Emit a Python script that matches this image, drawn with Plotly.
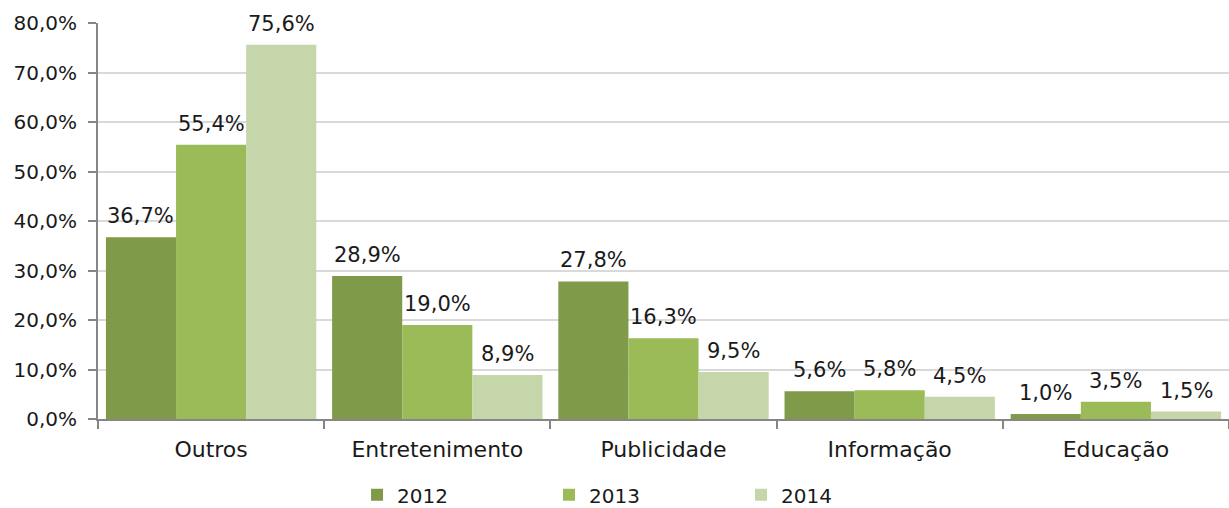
import plotly.graph_objects as go

categories = ["Outros", "Entretenimento", "Publicidade", "Informação", "Educação"]
years = ["2012", "2013", "2014"]
v2012 = [36.7, 28.9, 27.8, 5.6, 1.0]
v2013 = [55.4, 19.0, 16.3, 5.8, 3.5]
v2014 = [75.6, 8.9, 9.5, 4.5, 1.5]
colors = ["#7F9A48", "#9BBB59", "#C4D6AA"]
y_ticks = [0, 10, 20, 30, 40, 50, 60, 70, 80]
y_ticktext = ["0,0%", "10,0%", "20,0%", "30,0%", "40,0%", "50,0%", "60,0%", "70,0%", "80,0%"]

font_family = "'DejaVu Sans', sans-serif"
bargap = 0.07
series = [v2012, v2013, v2014]
n = len(series)
bar_w = (1 - bargap) / n

fig = go.Figure()
for name, vals, col in zip(years, series, colors):
    fig.add_trace(go.Bar(
        x=categories, y=vals, name=name,
        marker=dict(color=col, line=dict(width=0)),
        hoverinfo="skip",
    ))

# data labels above each bar
for j, vals in enumerate(series):
    off = (j - (n - 1) / 2) * bar_w
    for i, v in enumerate(vals):
        fig.add_annotation(
            x=i + off, y=v, xref="x", yref="y",
            text=f"{v:.1f}%".replace(".", ","),
            showarrow=False, yanchor="bottom", xanchor="center", yshift=7,
            font=dict(size=21, color="#1a1a1a", family=font_family),
        )

fig.update_layout(
    width=1229, height=508,
    barmode="group", bargap=bargap, bargroupgap=0,
    separators=",.",
    plot_bgcolor="white", paper_bgcolor="white",
    margin=dict(l=98, r=0, t=23, b=89, autoexpand=False),
    font=dict(family=font_family, size=20, color="#1a1a1a"),
    showlegend=True,
    legend=dict(orientation="h", xref="container", yref="container",
                x=0.2905, xanchor="left", y=0.026, yanchor="middle",
                entrywidth=147, entrywidthmode="pixels",
                font=dict(size=20), itemsizing="constant"),
)
fig.update_yaxes(
    range=[0, 80], tickvals=y_ticks, ticktext=y_ticktext, automargin=False,
    showgrid=True, gridcolor="#D9D9D9", gridwidth=1.5,
    showline=True, linecolor="#868686", linewidth=2,
    ticks="outside", ticklen=8, tickcolor="#868686", tickwidth=2,
    zeroline=False, tickfont=dict(size=20), ticklabelstandoff=7,
)
fig.update_xaxes(
    showline=True, linecolor="#868686", linewidth=2, automargin=False,
    ticks="outside", tickson="boundaries", ticklen=8, tickcolor="#868686", tickwidth=2,
    tickfont=dict(size=22), ticklabelstandoff=10,
)

fig.write_html("out.html", config={"displayModeBar": False},
               post_script="document.body.style.margin='0';document.body.style.overflow='hidden';")
